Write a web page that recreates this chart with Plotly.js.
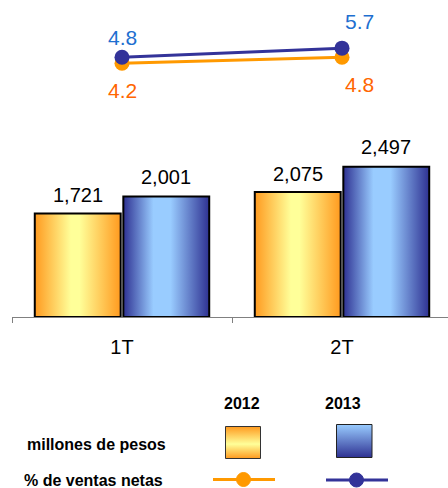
<!DOCTYPE html>
<html>
<head>
<meta charset="utf-8">
<script src="https://cdn.plot.ly/plotly-3.0.1.min.js"></script>
<style>
html,body{margin:0;padding:0;background:#fff;}
#chart{width:448px;height:488px;}
</style>
</head>
<body>
<div id="chart"></div>
<script>
// ---- data ----
const categories = ['1T', '2T'];
const ventas2012 = [1721, 2075];
const ventas2013 = [2001, 2497];
const pct2012 = [4.2, 4.8];
const pct2013 = [4.8, 5.7];
const years = ['2012', '2013'];
const legendRows = ['millones de pesos', '% de ventas netas'];

// ---- style ----
const FONT = 'Liberation Sans, Arial, sans-serif';
const ORANGE = '#FF9900';
const NAVY = '#333399';
const BLUE_TXT = '#1E6FD0';
const ORANGE_TXT = '#FF6600';
// pixel shifts for the percent labels (per point)
const shift2013 = [{x: 0, y: 20}, {x: 17, y: 27}];
const shift2012 = [{x: 0, y: -27}, {x: 17, y: -27}];

const W = 448, H = 488, ML = 12;
const px2x = px => (px - ML) / (W - ML);
const py2y = py => 1 - py / H;

const fmt = v => v.toLocaleString('en-US');

const traces = [
  {type: 'bar', x: categories, y: ventas2012, name: '2012',
   marker: {color: '#FFCC66', line: {color: '#000', width: 2}}, hoverinfo: 'none'},
  {type: 'bar', x: categories, y: ventas2013, name: '2013',
   marker: {color: '#6699DD', line: {color: '#000', width: 2}}, hoverinfo: 'none'},
  {type: 'scatter', mode: 'lines+markers', x: categories, y: pct2012, yaxis: 'y2',
   line: {color: ORANGE, width: 3}, marker: {color: ORANGE, size: 15}, cliponaxis: false, hoverinfo: 'none'},
  {type: 'scatter', mode: 'lines+markers', x: categories, y: pct2013, yaxis: 'y2',
   line: {color: NAVY, width: 3}, marker: {color: NAVY, size: 15}, cliponaxis: false, hoverinfo: 'none'}
];

const annotations = [];
categories.forEach((c, i) => {
  annotations.push({x: i - 0.2, y: ventas2012[i], xref: 'x', yref: 'y', text: fmt(ventas2012[i]),
    showarrow: false, yanchor: 'middle', yshift: 18, font: {family: FONT, size: 20, color: '#000'}});
  annotations.push({x: i + 0.2, y: ventas2013[i], xref: 'x', yref: 'y', text: fmt(ventas2013[i]),
    showarrow: false, yanchor: 'middle', yshift: 20, font: {family: FONT, size: 20, color: '#000'}});
  annotations.push({x: i, y: pct2013[i], xref: 'x', yref: 'y2', text: pct2013[i].toFixed(1),
    showarrow: false, yanchor: 'middle', xshift: shift2013[i].x, yshift: shift2013[i].y,
    font: {family: FONT, size: 21, color: BLUE_TXT}});
  annotations.push({x: i, y: pct2012[i], xref: 'x', yref: 'y2', text: pct2012[i].toFixed(1),
    showarrow: false, yanchor: 'middle', xshift: shift2012[i].x, yshift: shift2012[i].y,
    font: {family: FONT, size: 21, color: ORANGE_TXT}});
});
// legend table text
annotations.push({x: px2x(242), y: py2y(403), xref: 'paper', yref: 'paper', text: '<b>' + years[0] + '</b>',
  showarrow: false, xanchor: 'center', yanchor: 'middle', font: {family: FONT, size: 16, color: '#000'}});
annotations.push({x: px2x(342.5), y: py2y(403), xref: 'paper', yref: 'paper', text: '<b>' + years[1] + '</b>',
  showarrow: false, xanchor: 'center', yanchor: 'middle', font: {family: FONT, size: 16, color: '#000'}});
annotations.push({x: px2x(25), y: py2y(444), xref: 'paper', yref: 'paper', text: '<b>' + legendRows[0] + '</b>',
  showarrow: false, xanchor: 'left', yanchor: 'middle', font: {family: FONT, size: 16, color: '#000'}});
annotations.push({x: px2x(22), y: py2y(480), xref: 'paper', yref: 'paper', text: '<b>' + legendRows[1] + '</b>',
  showarrow: false, xanchor: 'left', yanchor: 'middle', font: {family: FONT, size: 16, color: '#000'}});

const shapes = [
  // 0: orange swatch
  {type: 'rect', xref: 'paper', yref: 'paper', x0: px2x(225.5), x1: px2x(260.5), y0: py2y(426.5), y1: py2y(458.5),
   fillcolor: '#FFCC66', line: {color: '#333', width: 1}},
  // 1: blue swatch
  {type: 'rect', xref: 'paper', yref: 'paper', x0: px2x(336.5), x1: px2x(372), y0: py2y(424.5), y1: py2y(457.5),
   fillcolor: '#6699DD', line: {color: '#222', width: 1}},
  // legend lines
  {type: 'line', xref: 'paper', yref: 'paper', x0: px2x(213), x1: px2x(275), y0: py2y(479.5), y1: py2y(479.5),
   line: {color: ORANGE, width: 3}},
  {type: 'circle', xref: 'paper', yref: 'paper', xsizemode: 'pixel', ysizemode: 'pixel',
   xanchor: px2x(243.5), yanchor: py2y(479.5), x0: -7, x1: 7, y0: -7, y1: 7,
   fillcolor: ORANGE, line: {color: ORANGE, width: 1}},
  {type: 'line', xref: 'paper', yref: 'paper', x0: px2x(326), x1: px2x(388), y0: py2y(480), y1: py2y(480),
   line: {color: NAVY, width: 3}},
  {type: 'circle', xref: 'paper', yref: 'paper', xsizemode: 'pixel', ysizemode: 'pixel',
   xanchor: px2x(356.5), yanchor: py2y(480), x0: -7, x1: 7, y0: -7, y1: 7,
   fillcolor: NAVY, line: {color: NAVY, width: 1}}
];

const baseY = 317;
const barScale = 0.0602; // px per unit
const lineScale = 10.1, lineRef = 57.25, lineRefVal = 4.8;

const layout = {
  width: W, height: H,
  margin: {l: ML, r: 0, t: 0, b: 0, pad: 0},
  paper_bgcolor: '#fff', plot_bgcolor: '#fff',
  showlegend: false,
  barmode: 'group', bargap: 0.195, bargroupgap: 0.03,
  font: {family: FONT},
  xaxis: {type: 'category', range: [-0.5, -0.5 + (W - ML) / 220], showline: true, linecolor: '#808080', linewidth: 1,
    ticks: 'outside', tickson: 'boundaries', ticklen: 5, tickcolor: '#808080', tickwidth: 1,
    ticklabelstandoff: 12,
    tickfont: {family: FONT, size: 20, color: '#000'}, showgrid: false, zeroline: false, fixedrange: true},
  yaxis: {domain: [py2y(baseY), 1], range: [0, baseY / barScale], visible: false, fixedrange: true},
  yaxis2: {overlaying: 'y', range: [lineRefVal - (baseY - lineRef) / lineScale, lineRefVal + lineRef / lineScale],
    visible: false, fixedrange: true},
  annotations: annotations,
  shapes: shapes
};

const gd = document.getElementById('chart');
Plotly.newPlot(gd, traces, layout, {displayModeBar: false, staticPlot: true}).then(() => {
  const NS = 'http://www.w3.org/2000/svg';
  const svg = gd.querySelector('.main-svg');
  const defs = document.createElementNS(NS, 'defs');
  function grad(id, vertical, stops) {
    const g = document.createElementNS(NS, 'linearGradient');
    g.setAttribute('id', id);
    g.setAttribute('x1', '0'); g.setAttribute('y1', '0');
    g.setAttribute('x2', vertical ? '0' : '1'); g.setAttribute('y2', vertical ? '1' : '0');
    stops.forEach(s => {
      const st = document.createElementNS(NS, 'stop');
      st.setAttribute('offset', s[0]);
      st.setAttribute('stop-color', s[1]);
      g.appendChild(st);
    });
    defs.appendChild(g);
  }
  grad('gOrangeH', false, [[0, '#FF9A1F'], [0.42, '#FFFF99'], [0.52, '#FFFF99'], [1, '#FF9A1F']]);
  grad('gBlueH', false, [[0, '#2E3192'], [0.35, '#99CCFF'], [0.55, '#99CCFF'], [1, '#2E3192']]);
  grad('gOrangeV', true, [[0, '#FF9A1F'], [0.55, '#FFFF99'], [1, '#FF9A1F']]);
  grad('gBlueV', true, [[0, '#99CCFF'], [1, '#2E3192']]);
  svg.insertBefore(defs, svg.firstChild);

  const barTraces = gd.querySelectorAll('.barlayer .trace');
  barTraces.forEach((t, i) => {
    t.querySelectorAll('.point path').forEach(p => {
      p.style.fill = i === 0 ? 'url(#gOrangeH)' : 'url(#gBlueH)';
    });
  });
  const s0 = gd.querySelector('.shapelayer path[data-index="0"]');
  const s1 = gd.querySelector('.shapelayer path[data-index="1"]');
  if (s0) s0.style.fill = 'url(#gOrangeV)';
  if (s1) s1.style.fill = 'url(#gBlueV)';
});
</script>
</body>
</html>
